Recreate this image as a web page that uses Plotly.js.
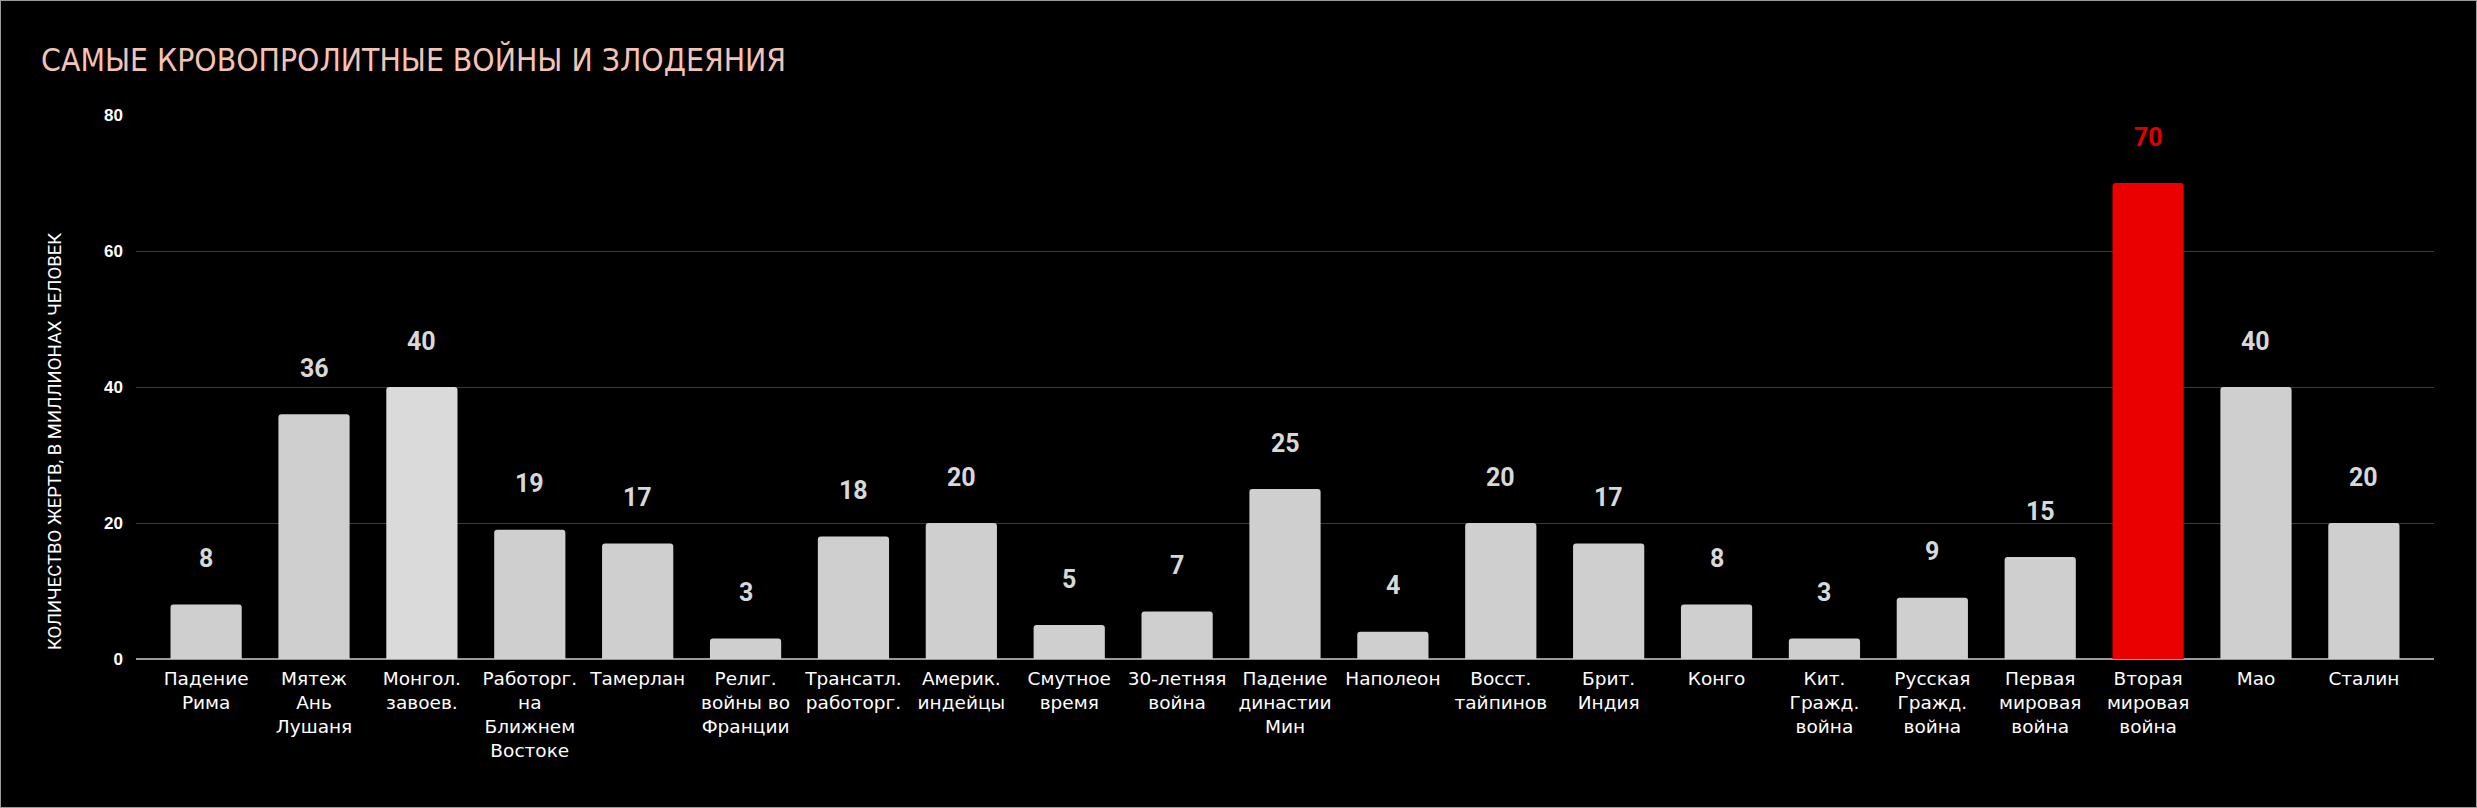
<!DOCTYPE html>
<html>
<head>
<meta charset="utf-8">
<script src="https://cdn.plot.ly/plotly-3.0.1.min.js"></script>
<style>
html,body{margin:0;padding:0;background:#000;}
#chart{width:2475px;height:806px;border:1px solid #9a9a9a;}
</style>
</head>
<body>
<div id="chart"></div>
<script>
const categories = [
  "Падение<br>Рима", "Мятеж<br>Ань<br>Лушаня", "Монгол.<br>завоев.", "Работорг.<br>на<br>Ближнем<br>Востоке",
  "Тамерлан", "Религ.<br>войны во<br>Франции", "Трансатл.<br>работорг.", "Америк.<br>индейцы",
  "Смутное<br>время", "30-летняя<br>война", "Падение<br>династии<br>Мин", "Наполеон",
  "Восст.<br>тайпинов", "Брит.<br>Индия", "Конго", "Кит.<br>Гражд.<br>война",
  "Русская<br>Гражд.<br>война", "Первая<br>мировая<br>война", "Вторая<br>мировая<br>война", "Мао", "Сталин"
];
const victims = [8, 36, 40, 19, 17, 3, 18, 20, 5, 7, 25, 4, 20, 17, 8, 3, 9, 15, 70, 40, 20];
const barColors = ["#cfcfcf","#cfcfcf","#dadada","#cfcfcf","#cfcfcf","#cfcfcf","#cfcfcf","#cfcfcf",
  "#cfcfcf","#cfcfcf","#cfcfcf","#cfcfcf","#cfcfcf","#cfcfcf","#cfcfcf","#cfcfcf","#cfcfcf",
  "#cfcfcf","#ea0000","#cfcfcf","#cfcfcf"];
const labelColors = victims.map((v, i) => i === 18 ? "#e00000" : "#d8d8d8");
const yTicks = [0, 20, 40, 60, 80];

const xIdx = categories.map((c, i) => i);

const trace = {
  type: "bar",
  x: xIdx,
  y: victims,
  marker: {color: barColors, line: {width: 0}, cornerradius: 3},
  hoverinfo: "skip"
};

const annotations = victims.map((v, i) => ({
  x: i, y: v, xref: "x", yref: "y",
  text: String(v), showarrow: false, yshift: 46,
  font: {family: "Roboto, sans-serif", size: 25, color: labelColors[i], weight: 700}
}));
annotations.push({
  xref: "paper", yref: "paper", x: -0.0352, y: 0.399,
  xanchor: "center", yanchor: "middle", textangle: -90, showarrow: false,
  text: "КОЛИЧЕСТВО ЖЕРТВ, В МИЛЛИОНАХ ЧЕЛОВЕК",
  font: {family: "Roboto, sans-serif", size: 18.5, color: "#ffffff"}
});

const layout = {
  width: 2475, height: 806,
  paper_bgcolor: "#000", plot_bgcolor: "#000",
  margin: {l: 135, r: 42, t: 114, b: 148},
  showlegend: false,
  title: {
    text: "САМЫЕ КРОВОПРОЛИТНЫЕ ВОЙНЫ И ЗЛОДЕЯНИЯ",
    xref: "container", yref: "container", x: 0.0162, xanchor: "left",
    y: 1 - 59/806, yanchor: "middle",
    font: {family: "'Liberation Sans Narrow', 'DejaVu Sans Condensed', sans-serif", size: 31.6, color: "#f3c4b6"}
  },
  bargap: 0.34,
  xaxis: {
    range: [-0.65, 20.65],
    tickvals: xIdx, ticktext: categories,
    showgrid: false, zeroline: false,
    showline: false, ticks: "",
    tickangle: 0,
    ticklabelstandoff: 6,
    tickfont: {family: "'DejaVu Sans', Verdana, sans-serif", size: 18.5, color: "#ffffff"},
    fixedrange: true
  },
  yaxis: {
    range: [0, 80], tickvals: yTicks,
    showgrid: true, gridcolor: "#3a3a3a", gridwidth: 1,
    zeroline: true, zerolinecolor: "#9a9a9a", zerolinewidth: 2,
    showline: false, ticks: "",
    ticklabelstandoff: 12,
    tickfont: {family: "'Liberation Sans', Arial, sans-serif", size: 17, color: "#ffffff", weight: 700},
    fixedrange: true
  },
  annotations: annotations
};

Plotly.newPlot("chart", [trace], layout, {displayModeBar: false, staticPlot: true});
</script>
</body>
</html>
